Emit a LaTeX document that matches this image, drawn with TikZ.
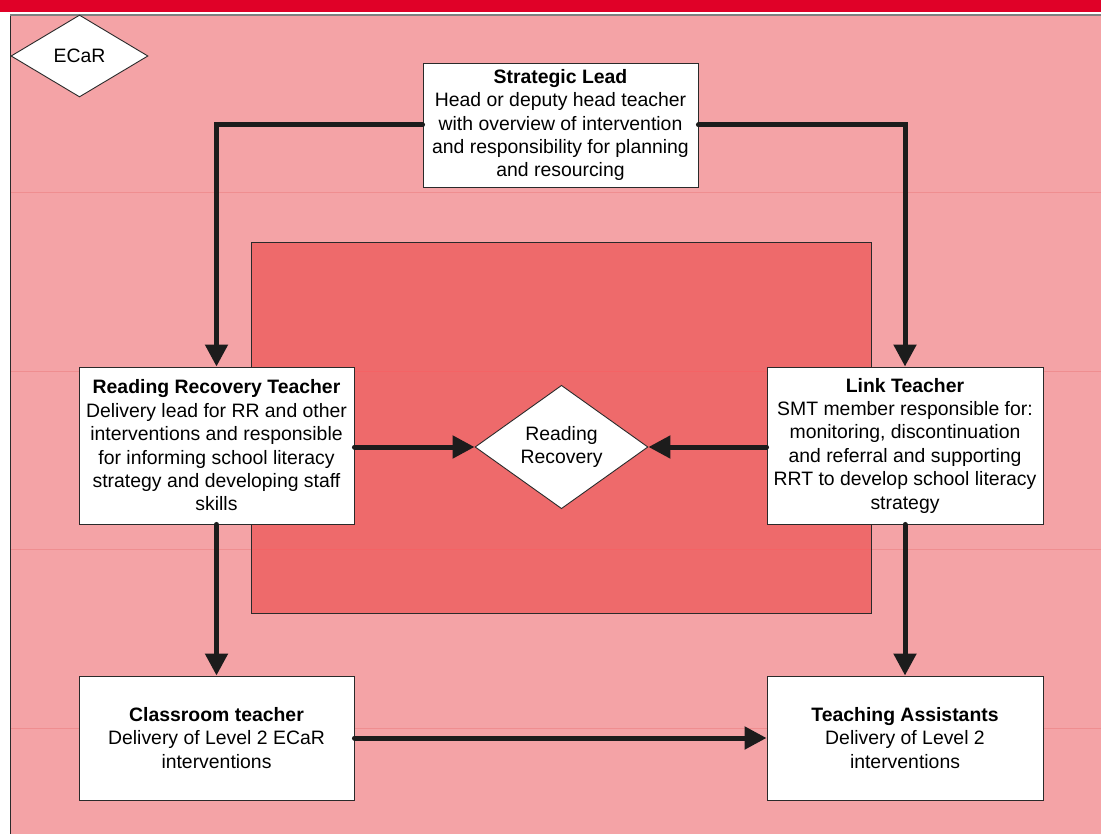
\documentclass[tikz,border=0pt]{standalone}
\usepackage{fontspec}
\setmainfont{Liberation Sans}
\usetikzlibrary{shapes.geometric,arrows.meta}
\definecolor{bgpink}{HTML}{F4A3A6}
\definecolor{innerred}{HTML}{EE6A6B}
\definecolor{barred}{HTML}{E00128}
\definecolor{arrowc}{HTML}{1C1C1C}
\definecolor{boxline}{HTML}{2A2A2A}
\definecolor{faint}{HTML}{EF8E90}
\begin{document}
\begin{tikzpicture}[x=1pt,y=-1pt,
  box/.style={draw=boxline, fill=white, line width=0.9pt, align=center,
    inner sep=2pt, font=\fontsize{19.4}{23.4}\selectfont},
  dia/.style={diamond, draw=boxline, fill=white, line width=0.9pt, inner sep=0pt,
    align=center, font=\fontsize{19.4}{23.4}\selectfont},
  arr/.style={draw=arrowc, line width=5pt, line cap=round,
    -{Triangle[length=22pt,width=22pt]}}]
\useasboundingbox (0,0) rectangle (1101,834);
% top bar
\fill[barred] (0,0) rectangle (1101,12);
% frame
\draw[fill=bgpink, draw=boxline, line width=1pt] (10,15) rectangle (1120,850);
\draw[gray, line width=1.2pt] (10,15) -- (1101,15);
% faint lines
\draw[faint, line width=0.6pt] (11,192) -- (1101,192);
\draw[faint, line width=0.6pt] (11,371) -- (1101,371);
\draw[faint, line width=0.6pt] (11,549) -- (1101,549);
\draw[faint, line width=0.6pt] (11,728) -- (1101,728);
% inner rectangle
\draw[fill=innerred, draw=boxline, line width=0.9pt] (251,242) rectangle (871,613);
\draw[faint!70!red, line width=0.6pt] (251.5,371) -- (870.5,371);
\draw[faint!70!red, line width=0.6pt] (251.5,549) -- (870.5,549);

% ECaR diamond
\node[dia, minimum width=137pt, minimum height=82pt] (ecar) at (79.5,56) {ECaR};

% boxes
\node[box, minimum width=275pt, minimum height=124pt] (sl) at (560.5,125)
  {\textbf{Strategic Lead}\\Head or deputy head teacher\\with overview of intervention\\and responsibility for planning\\and resourcing};
\node[box, minimum width=275pt, minimum height=157pt] (rrt) at (216.5,445.5)
  {\textbf{Reading Recovery Teacher}\\Delivery lead for RR and other\\interventions and responsible\\for informing school literacy\\strategy and developing staff\\skills};
\node[box, minimum width=276pt, minimum height=157pt] (lt) at (905,445.5)
  {\textbf{Link Teacher}\\SMT member responsible for:\\monitoring, discontinuation\\and referral and supporting\\RRT to develop school literacy\\strategy};
\node[box, minimum width=275pt, minimum height=124pt] (ct) at (216.5,738)
  {\textbf{Classroom teacher}\\Delivery of Level 2 ECaR\\interventions};
\node[box, minimum width=276pt, minimum height=124pt] (ta) at (905,738)
  {\textbf{Teaching Assistants}\\Delivery of Level 2\\interventions};
\node[dia, minimum width=173pt, minimum height=120pt] (rr) at (561.5,447)
  {Reading\\Recovery};

% connectors
\draw[arr] (sl.west) -| (rrt.north);
\draw[arr] (sl.east) -| (lt.north);
\draw[arr] (rrt.east |- rr.west) -- (rr.west);
\draw[arr] (lt.west |- rr.east) -- (rr.east);
\draw[arr] (rrt.south) -- (ct.north);
\draw[arr] (lt.south) -- (ta.north);
\draw[arr] (ct.east) -- (ta.west);
\end{tikzpicture}
\end{document}
